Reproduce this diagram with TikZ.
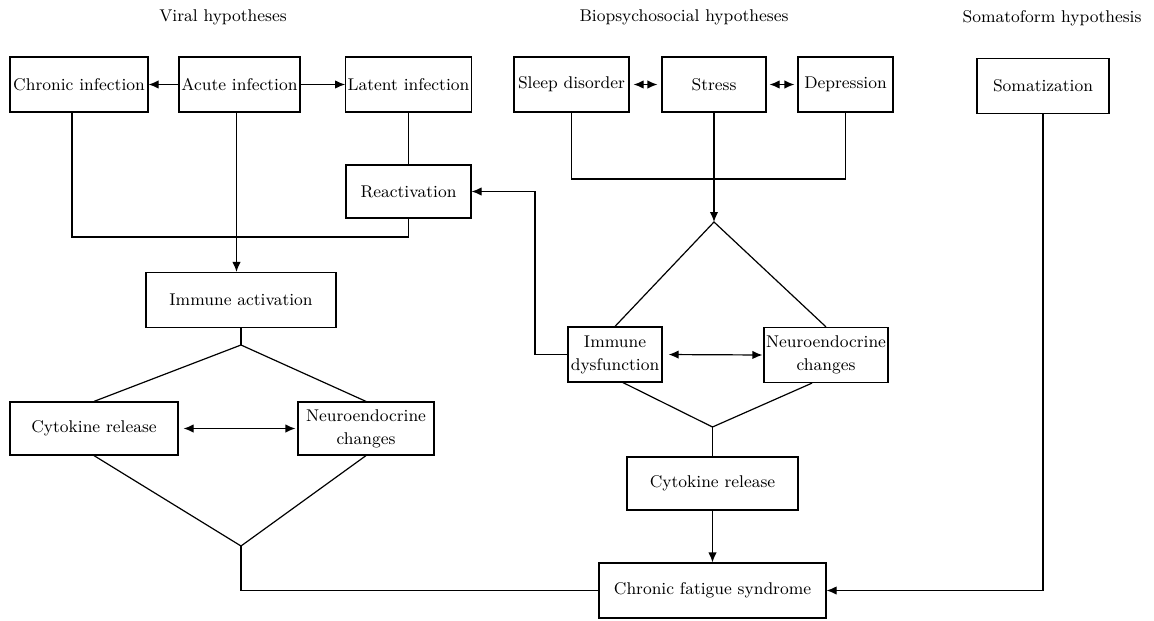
\documentclass[tikz,border=0pt]{standalone}
\usepackage{tikz}
\usetikzlibrary{arrows.meta,positioning,calc}

\begin{document}
\begin{tikzpicture}[
    x=0.5pt, y=-0.5pt,
    box/.style={draw, font=\fontsize{8.5}{11.5}\selectfont, align=center, inner sep=1pt, minimum height=27.5pt},
    title/.style={font=\fontsize{8.5}{10}\selectfont},
    >={Latex[length=5pt,width=4.2pt]},
    line width=0.6pt
  ]
  \useasboundingbox (0,0) rectangle (1154,620);

  % column titles
  \node[title] (tviral) at (223,17) {Viral hypotheses};
  \node[title] (tbio) at (684,17) {Biopsychosocial hypotheses};
  \node[title] (tsomat) at (1052,18) {Somatoform hypothesis};

  % viral hypotheses
  \node[box, minimum width=69pt] (chronic) at (79,84.5) {Chronic infection};
  \node[box, minimum width=60.5pt] (acute) at (239.5,84.5) {Acute infection};
  \node[box, minimum width=62.5pt] (latent) at (408.5,84.5) {Latent infection};
  \node[box, minimum width=62.5pt, minimum height=26.5pt] (react) at (408.5,191.5) {Reactivation};
  \node[box, minimum width=95pt] (immact) at (241,300) {Immune activation};
  \node[box, minimum width=84pt, minimum height=26.5pt] (cytoA) at (94,428.5) {Cytokine release};
  \node[box, minimum width=68pt, minimum height=26.5pt] (neuroA) at (366,428.5) {Neuroendocrine\\changes};

  % biopsychosocial hypotheses
  \node[box, minimum width=57.5pt] (sleep) at (571.5,84.5) {Sleep disorder};
  \node[box, minimum width=52pt] (stress) at (714,84.5) {Stress};
  \node[box, minimum width=47.5pt] (depr) at (845.5,84.5) {Depression};
  \node[box, minimum width=47pt] (immdys) at (615,354.5) {Immune\\dysfunction};
  \node[box, minimum width=61pt] (neuroB) at (826,355) {Neuroendocrine\\changes};
  \node[box, minimum width=85.5pt, minimum height=26.5pt] (cytoB) at (712.5,483.5) {Cytokine release};

  % somatoform hypothesis
  \node[box, minimum width=66pt] (somat) at (1043,86) {Somatization};

  % outcome
  \node[box, minimum width=113.5pt] (cfs) at (712.5,590.5) {Chronic fatigue syndrome};

  % junction points
  \coordinate (vjoin) at (236,237);
  \coordinate (apA) at (241,345);
  \coordinate (apB) at (241,546);
  \coordinate (bjoin) at (714,179);
  \coordinate (apC) at (714,222);
  \coordinate (apD) at (712.5,427);
  \coordinate (rbend) at (535,191.5);

  % viral connectors
  \draw[->] (acute.west) -- (chronic.east);
  \draw[->] (acute.east) -- (latent.west);
  \draw (latent.south) -- (react.north);
  \draw ($(chronic.south)+(-7,0)$) |- (vjoin) -| (react.south);
  \draw[->] ($(acute.south)+(-3,0)$) -- ($(acute.south |- immact.north)+(-3,0)$);
  \draw (immact.south) -- (apA);
  \draw (cytoA.north) -- (apA) -- (neuroA.north);
  \draw[<->, shorten <=2.5pt, shorten >=1pt] (cytoA.east) -- (neuroA.west);
  \draw (cytoA.south) -- (apB) -- (neuroA.south);
  \draw (apB) |- (cfs.west);

  % biopsychosocial connectors
  \draw[<->, shorten <=2pt, shorten >=2pt] (sleep.east) -- (stress.west);
  \draw[<->, shorten <=1.5pt, shorten >=1.5pt] (stress.east) -- (depr.west);
  \draw (sleep.south) |- (bjoin) -| (depr.south);
  \draw[->] (stress.south) -- (apC);
  \draw (immdys.north) -- (apC) -- (neuroB.north);
  \draw[<->, shorten <=3pt, shorten >=0.5pt] (immdys.east) -- (neuroB.west);
  \draw ($(immdys.south)+(8,0)$) -- (apD) -- ($(neuroB.south)+(-14,0)$);
  \draw (apD) -- (cytoB.north);
  \draw[->] (cytoB.south) -- (cfs.north);
  \draw[->] (immdys.west) -| (rbend) -- (react.east);

  % somatoform connector
  \draw[->] (somat.south) |- (cfs.east);
\end{tikzpicture}
\end{document}
